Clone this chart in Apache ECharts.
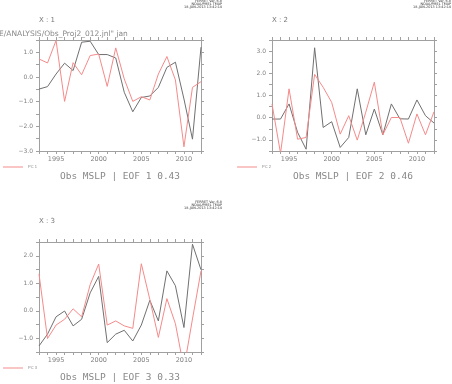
<!DOCTYPE html>
<html>
<head>
<meta charset="utf-8">
<script src="https://cdn.jsdelivr.net/npm/echarts@6/dist/echarts.min.js"></script>
<style>html,body{margin:0;padding:0;background:#fff}#c{width:452px;height:384px}</style>
</head>
<body>
<div id="c"></div>
<script>
const years = [1993,1994,1995,1996,1997,1998,1999,2000,2001,2002,2003,2004,2005,2006,2007,2008,2009,2010,2011,2012];
const pc1 = [0.73,0.57,1.48,-0.99,0.58,0.09,0.87,0.93,-0.38,1.18,-0.08,-0.99,-0.80,-0.93,0.12,0.83,-0.12,-2.83,-0.42,-0.19];
const ref1 = [-0.49,-0.39,0.12,0.56,0.26,1.41,1.45,0.91,0.91,0.77,-0.62,-1.41,-0.83,-0.77,-0.42,0.39,0.60,-0.89,-2.52,1.21];
const pc2 = [0.62,-1.60,1.30,-0.97,-0.89,1.95,1.37,0.69,-0.74,0.09,-1.01,0.25,1.60,-0.77,0.01,0.01,-1.15,0.17,-0.77,0.27];
const ref2 = [-0.06,-0.06,0.62,-0.66,-1.42,3.15,-0.44,-0.18,-1.34,-0.89,1.30,-0.77,0.39,-0.77,0.62,-0.05,-0.06,0.80,0.09,-0.24];
const pc3 = [1.34,-1.01,-0.52,-0.31,0.07,-0.22,0.95,1.70,-0.52,-0.37,-0.55,-0.64,1.71,0.41,-0.97,0.44,-0.47,-2.10,-0.30,1.45];
const ref3 = [-1.28,-0.85,-0.22,-0.01,-0.55,-0.31,0.65,1.25,-1.16,-0.85,-0.71,-1.10,-0.52,0.38,-0.37,1.45,0.91,-0.61,2.42,1.49];
const titles = ['Obs MSLP | EOF 1 0.43','Obs MSLP | EOF 2 0.46','Obs MSLP | EOF 3 0.33'];
const panelLabels = ['X : 1','X : 2','X : 3'];
const pcNames = ['PC 1','PC 2','PC 3'];
const yRanges = [[-3,1.5],[-1.5,3.5],[-1.5,2.5]];
const xRange = [1993,2012];
const pathText = 'E/ANALYSIS/Obs_Proj2_012.jnl" jan';
const header = 'FERRET Ver. 6.8\nNOAA/PMEL TMAP\n18-JUN-2013 13:42:14';

const pcs = [pc1,pc2,pc3];
const refs = [ref1,ref2,ref3];
const grids = [
  {left:39, top:40, width:162, height:111},
  {left:272, top:40, width:162, height:111},
  {left:39, top:242, width:162, height:110}
];
const axisCol = '#a0a0a0';
const labCol = '#808080';
const redCol = '#f58a8a';
const blkCol = '#707070';

const xAxis = [], yAxis = [], series = [], legend = [], graphic = [];
grids.forEach((g,i)=>{
  const base = {type:'value', gridIndex:i, min:xRange[0], max:xRange[1], interval:1,
    axisLine:{show:true, onZero:false, lineStyle:{color:axisCol, width:1}},
    axisTick:{show:true, inside:false, length:3, lineStyle:{color:axisCol}},
    splitLine:{show:false}};
  xAxis.push(Object.assign({}, base, {position:'bottom',
    axisLabel:{show:true, margin:5, fontSize:6.5, color:labCol, fontFamily:'DejaVu Sans',
      formatter:v=> (v%5===0? String(v):'')}}));
  xAxis.push(Object.assign({}, base, {position:'top', axisLabel:{show:false}}));
  const ybase = {type:'value', gridIndex:i, min:yRanges[i][0], max:yRanges[i][1], interval:0.5,
    axisLine:{show:true, onZero:false, lineStyle:{color:axisCol, width:1}},
    axisTick:{show:true, inside:false, length:3, lineStyle:{color:axisCol}},
    splitLine:{show:false}};
  yAxis.push(Object.assign({}, ybase, {position:'left',
    axisLabel:{show:true, margin:6, fontSize:6, color:labCol, fontFamily:'DejaVu Sans',
      formatter:v=> (Number.isInteger(v)? (v<0?'\u2212':'')+Math.abs(v).toFixed(1):'')}}));
  yAxis.push(Object.assign({}, ybase, {position:'right', axisLabel:{show:false}}));
  series.push({name:pcNames[i], type:'line', xAxisIndex:2*i, yAxisIndex:2*i, symbol:'none',
    data: years.map((y,k)=>[y,pcs[i][k]]), lineStyle:{color:redCol, width:1}, itemStyle:{color:redCol}, z:3});
  series.push({name:'ref'+(i+1), type:'line', xAxisIndex:2*i, yAxisIndex:2*i, symbol:'none',
    data: years.map((y,k)=>[y,refs[i][k]]), lineStyle:{color:blkCol, width:1}, itemStyle:{color:blkCol}, z:2});
});

const legPos = [[3,165],[237,165],[3,366]];
legPos.forEach((p,i)=>{
  legend.push({data:[pcNames[i]], left:p[0], top:p[1], padding:0, icon:'rect', itemWidth:20, itemHeight:1,
    itemStyle:{color:redCol}, textStyle:{fontSize:4, color:'#888', padding:[0,0,0,0]}, selectedMode:false});
});

function txt(x,y,text,font,fill,align){
  return {type:'text', x:x, y:y, silent:true, style:{text:text, font:font, fill:fill, textAlign:align||'left', textVerticalAlign:'middle'}};
}
graphic.push(txt(222,4.5,header,"3.4px 'DejaVu Sans'",'#333','right'));
graphic.push(txt(451,4.5,header,"3.4px 'DejaVu Sans'",'#333','right'));
graphic.push(txt(222,205,header,"3.4px 'DejaVu Sans'",'#333','right'));
graphic.push(txt(39,20,panelLabels[0],"7px 'DejaVu Sans'",'#777'));
graphic.push(txt(272,20,panelLabels[1],"7px 'DejaVu Sans'",'#777'));
graphic.push(txt(39,221,panelLabels[2],"7px 'DejaVu Sans'",'#777'));
graphic.push(txt(-1,34,pathText,"7.5px 'DejaVu Sans'",'#888'));
graphic.push(txt(120,177,titles[0],"9.5px 'DejaVu Sans Mono'",'#888','center'));
graphic.push(txt(353,177,titles[1],"9.5px 'DejaVu Sans Mono'",'#888','center'));
graphic.push(txt(120,378,titles[2],"9.5px 'DejaVu Sans Mono'",'#888','center'));

const chart = echarts.init(document.getElementById('c'), null, {renderer:'canvas'});
chart.setOption({animation:false, backgroundColor:'#fff', grid:grids, xAxis, yAxis, series, legend, graphic});
</script>
</body>
</html>
